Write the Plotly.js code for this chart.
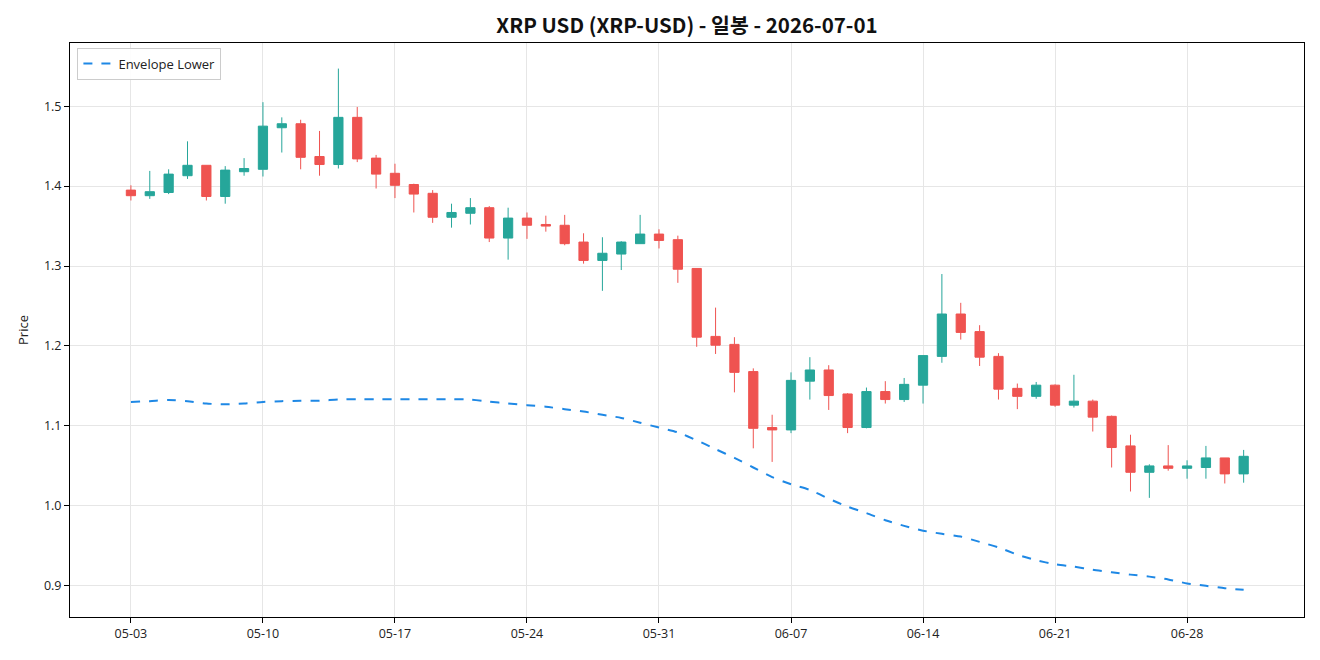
<!DOCTYPE html>
<html>
<head>
<meta charset="utf-8">
<script src="https://cdn.plot.ly/plotly-3.0.1.min.js"></script>
<style>html,body{margin:0;padding:0;background:#fff;}#chart{width:1320px;height:660px;}</style>
</head>
<body>
<div id="chart"></div>
<script>
const dates = [
"2026-05-03","2026-05-04","2026-05-05","2026-05-06","2026-05-07","2026-05-08","2026-05-09",
"2026-05-10","2026-05-11","2026-05-12","2026-05-13","2026-05-14","2026-05-15","2026-05-16",
"2026-05-17","2026-05-18","2026-05-19","2026-05-20","2026-05-21","2026-05-22","2026-05-23",
"2026-05-24","2026-05-25","2026-05-26","2026-05-27","2026-05-28","2026-05-29","2026-05-30",
"2026-05-31","2026-06-01","2026-06-02","2026-06-03","2026-06-04","2026-06-05","2026-06-06",
"2026-06-07","2026-06-08","2026-06-09","2026-06-10","2026-06-11","2026-06-12","2026-06-13",
"2026-06-14","2026-06-15","2026-06-16","2026-06-17","2026-06-18","2026-06-19","2026-06-20",
"2026-06-21","2026-06-22","2026-06-23","2026-06-24","2026-06-25","2026-06-26","2026-06-27",
"2026-06-28","2026-06-29","2026-06-30","2026-07-01"];

const openP = [1.395,1.388,1.392,1.413,1.426,1.387,1.418,1.421,1.473,1.478,1.437,1.427,1.486,1.435,
1.416,1.402,1.391,1.361,1.366,1.373,1.335,1.360,1.352,1.351,1.330,1.307,1.315,1.328,1.340,1.333,
1.297,1.212,1.202,1.168,1.098,1.095,1.156,1.170,1.140,1.098,1.143,1.133,1.151,1.187,1.240,1.218,
1.187,1.147,1.137,1.151,1.126,1.131,1.112,1.075,1.042,1.050,1.047,1.048,1.060,1.040];
const highP = [1.401,1.419,1.421,1.456,1.426,1.425,1.435,1.505,1.486,1.483,1.469,1.547,1.499,1.439,
1.428,1.403,1.395,1.378,1.385,1.375,1.373,1.367,1.363,1.364,1.341,1.336,1.331,1.364,1.346,1.338,
1.297,1.248,1.211,1.172,1.114,1.167,1.186,1.176,1.141,1.148,1.156,1.160,1.188,1.290,1.254,1.226,
1.191,1.153,1.155,1.152,1.164,1.133,1.113,1.089,1.052,1.076,1.057,1.075,1.060,1.070];
const lowP = [1.382,1.384,1.390,1.409,1.382,1.378,1.413,1.412,1.442,1.421,1.413,1.422,1.430,1.397,
1.385,1.367,1.354,1.348,1.352,1.330,1.308,1.334,1.343,1.326,1.303,1.269,1.295,1.328,1.322,1.279,
1.199,1.190,1.142,1.072,1.055,1.091,1.133,1.120,1.091,1.097,1.128,1.130,1.128,1.179,1.208,1.175,
1.133,1.121,1.134,1.124,1.123,1.093,1.048,1.018,1.010,1.044,1.034,1.034,1.028,1.029];
const closeP = [1.388,1.393,1.415,1.426,1.387,1.420,1.422,1.475,1.478,1.436,1.427,1.486,1.434,1.415,
1.401,1.390,1.361,1.367,1.373,1.335,1.360,1.351,1.350,1.328,1.307,1.316,1.330,1.340,1.332,1.296,
1.211,1.201,1.167,1.097,1.095,1.157,1.170,1.138,1.098,1.143,1.133,1.152,1.188,1.240,1.217,1.186,
1.146,1.137,1.151,1.126,1.131,1.111,1.073,1.042,1.050,1.047,1.050,1.060,1.040,1.062];

const envLower = [1.130,1.131,1.1325,1.131,1.128,1.127,1.128,1.130,1.131,1.1315,1.1315,1.133,1.1334,1.1334,
1.1334,1.1334,1.1334,1.1334,1.133,1.1305,1.128,1.126,1.124,1.121,1.118,1.114,1.110,1.104,1.098,1.092,
1.082,1.071,1.060,1.048,1.036,1.027,1.020,1.009,0.999,0.991,0.982,0.975,0.969,0.965,0.9616,0.955,
0.948,0.939,0.932,0.927,0.924,0.920,0.917,0.914,0.9115,0.908,0.903,0.900,0.897,0.895];

const xTickStart = "2026-05-03";
const titleText = "XRP USD (XRP-USD) - 일봉 - 2026-07-01";
const fontFam = "'Open Sans', 'Noto Sans CJK KR', sans-serif";
const titleFam = "'Noto Sans CJK KR', 'Noto Sans', sans-serif";

const traces = [
  {
    type: "candlestick",
    x: dates, open: openP, high: highP, low: lowP, close: closeP,
    increasing: {line: {color: "#26a69a", width: 1}, fillcolor: "#26a69a"},
    decreasing: {line: {color: "#ef5350", width: 1}, fillcolor: "#ef5350"},
    whiskerwidth: 0,
    showlegend: false,
    hoverinfo: "x+y"
  },
  {
    type: "scatter", mode: "lines",
    x: dates, y: envLower,
    name: "Envelope Lower",
    line: {color: "#1e88e5", width: 2, dash: "dash", shape: "spline", smoothing: 0.6}
  }
];

const DAY = 86400000;
const t0 = new Date(dates[0] + "T00:00:00Z").getTime();
const tN = new Date(dates[dates.length-1] + "T00:00:00Z").getTime();
function iso(t){ return new Date(t).toISOString().replace("T"," ").slice(0,19); }

const layout = {
  width: 1320, height: 660,
  margin: {l: 70, r: 16, t: 43, b: 43},
  paper_bgcolor: "#ffffff", plot_bgcolor: "#ffffff",
  font: {family: fontFam, size: 12, color: "#222"},
  title: {text: "<b>" + titleText + "</b>", xref: "paper", x: 0.5, xanchor: "center",
          yref: "container", y: 0.961, yanchor: "middle",
          font: {family: titleFam, size: 20.5, color: "#111"}},
  showlegend: true,
  legend: {x: 0.006, y: 0.992, xanchor: "left", yanchor: "top", bgcolor: "rgba(255,255,255,0.9)",
           bordercolor: "#cccccc", borderwidth: 1, font: {family: fontFam, size: 13, color: "#222"}},
  xaxis: {
    type: "date",
    range: [iso(t0 - 3.23*DAY), iso(tN + 3.2*DAY)],
    tick0: xTickStart, dtick: 7*DAY, tickformat: "%m-%d",
    showgrid: true, gridcolor: "#e6e6e6", gridwidth: 1,
    showline: true, linecolor: "#000", linewidth: 1, mirror: true,
    ticks: "outside", ticklen: 5, tickcolor: "#000",
    rangeslider: {visible: false},
    tickfont: {family: fontFam, size: 12.5, color: "#222"},
    zeroline: false
  },
  yaxis: {
    range: [0.861, 1.579],
    dtick: 0.1, tick0: 0.9, tickformat: ".1f",
    showgrid: true, gridcolor: "#e6e6e6", gridwidth: 1,
    showline: true, linecolor: "#000", linewidth: 1, mirror: true,
    ticks: "outside", ticklen: 5, tickcolor: "#000",
    title: {text: "Price", font: {family: fontFam, size: 13, color: "#222"}, standoff: 12},
    tickfont: {family: fontFam, size: 12.5, color: "#222"},
    zeroline: false
  }
};

Plotly.newPlot("chart", traces, layout, {displayModeBar: false, staticPlot: true});
</script>
</body>
</html>
